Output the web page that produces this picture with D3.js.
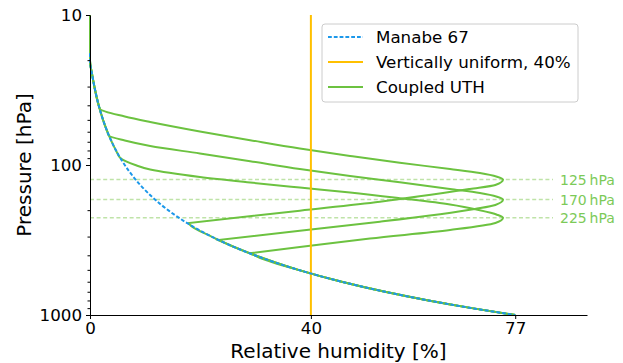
<!DOCTYPE html>
<html>
<head>
<meta charset="utf-8">
<script src="https://cdn.jsdelivr.net/npm/d3@7"></script>
<style>
    body { margin: 0; background: #fff; }
    svg { display: block; font-family: 'DejaVu Sans', sans-serif; }
</style>
</head>
<body>
<div id="chart"></div>
<script>
// Manabe 67 profile
const manabeP = [18, 20, 25, 30, 40, 50, 60, 70, 80, 100, 125, 150, 200, 250, 300, 400, 500, 600, 700, 800, 900, 1000];
const manabeRH = [0, 0, 0.39, 0.79, 1.57, 2.36, 3.14, 3.93, 4.71, 6.29, 8.25, 10.21, 14.14, 18.07, 22.0, 29.86, 37.71, 45.57, 53.43, 61.29, 69.14, 77];

const uniformRH = 40;

// coupled UTH bumps (pressure [hPa], RH [%]), one per level
const uthLevels = [125, 170, 225];
const uthP = [
    [42.3, 47.5, 51.7, 59.8, 68.3, 77.6, 87.0, 96.7, 106.3, 113.1, 119.7, 125, 135.9, 144.5, 175.7, 201.6, 243.6],
    [63.6, 68.7, 74.7, 83.8, 94.3, 106.3, 118.2, 130.4, 144.5, 153.7, 162.7, 170, 184.8, 196.4, 238.8, 274.2, 316.2],
    [90.5, 100, 107.2, 120.2, 130.8, 141.3, 152.5, 166.5, 183.4, 200.4, 214.5, 225, 243.6, 271.2, 309.0, 352.1, 386.0]
];
const uthRH = [
    [1.8, 6.3, 10.9, 19.9, 29.0, 38.0, 47.1, 56.1, 65.2, 70.6, 73.7, 74.8, 73.4, 68.8, 52.5, 38.0, 17.9],
    [3.4, 6.3, 10.9, 19.9, 29.0, 38.0, 47.1, 56.1, 65.2, 70.6, 73.7, 74.8, 73.4, 69.7, 52.5, 38.0, 23.2],
    [5.6, 8.2, 10.9, 19.9, 29.0, 38.0, 47.1, 56.1, 65.2, 70.6, 73.7, 74.8, 73.4, 65.2, 50.7, 38.0, 29.3]
];

const xTicks = [0, 40, 77];
const yTicks = [10, 100, 1000];
const yMinorTicks = [20, 30, 40, 50, 60, 70, 80, 90, 200, 300, 400, 500, 600, 700, 800, 900];
const legendLabels = ['Manabe 67', 'Vertically uniform, 40%', 'Coupled UTH'];

const colors = { manabe: '#1c98ea', uniform: '#ffc000', uth: '#6cc240', level: '#bfe3a8', levelText: '#7cca58' };

const width = 623, height = 363;
const svg = d3.select('#chart').append('svg').attr('width', width).attr('height', height);

const x = d3.scaleLinear().domain([0, 90]).range([90, 587]);
const y = d3.scaleLog().domain([10, 1000]).range([15, 315]);

const line = d3.line()
    .x(d => x(d.rh))
    .y(d => y(d.p))
    .curve(d3.curveMonotoneY);

const manabe = manabeP.map((p, i) => ({ p, rh: manabeRH[i] }));

// level guides
uthLevels.forEach(lev => {
    svg.append('line')
        .attr('x1', x(0)).attr('x2', 553)
        .attr('y1', y(lev)).attr('y2', y(lev))
        .attr('stroke', colors.level)
        .attr('stroke-width', 1.5)
        .attr('stroke-dasharray', '4,2.6');
    svg.append('text')
        .attr('x', 560).attr('y', y(lev))
        .attr('dominant-baseline', 'central')
        .attr('font-size', 14)
        .attr('fill', colors.levelText)
        .text(`${lev}\u2009hPa`);
});

// coupled curves: manabe above, bump, manabe below (kink kept sharp)
uthP.forEach((ps, k) => {
    const bump = ps.map((p, i) => ({ p, rh: uthRH[k][i] }));
    const pTop = ps[0], pBot = ps[ps.length - 1];
    const upper = [{ p: y.domain()[0], rh: 0 }]
        .concat(manabe.filter(d => d.p < pTop))
        .concat(bump);
    const lower = [bump[bump.length - 1]].concat(manabe.filter(d => d.p > pBot));
    svg.append('path')
        .attr('d', line(upper) + line(lower).replace(/^M/, 'L'))
        .attr('fill', 'none')
        .attr('stroke', colors.uth)
        .attr('stroke-width', 2);
});

svg.append('path')
    .attr('d', line([{ p: 10, rh: uniformRH }, { p: 1000, rh: uniformRH }]))
    .attr('fill', 'none')
    .attr('stroke', colors.uniform)
    .attr('stroke-width', 2);

svg.append('path')
    .attr('d', line(manabe))
    .attr('fill', 'none')
    .attr('stroke', colors.manabe)
    .attr('stroke-width', 2)
    .attr('stroke-dasharray', '3.8,2');

// axes
const styleAxis = g => {
    g.select('.domain').attr('stroke', '#000').attr('stroke-width', 1);
    g.selectAll('.tick line').attr('stroke', '#000');
    g.selectAll('.tick text').attr('font-size', 16.7).attr('fill', '#000').attr('font-family', 'DejaVu Sans');
};

svg.append('g')
    .attr('transform', `translate(0,${y(1000)})`)
    .call(d3.axisBottom(x).tickValues(xTicks).tickFormat(d3.format('d')).tickSize(4).tickPadding(3).tickSizeOuter(0))
    .call(styleAxis);

svg.append('g')
    .attr('transform', `translate(${x(0)},0)`)
    .call(d3.axisLeft(y).tickValues(yMinorTicks).tickFormat('').tickSize(2.5).tickSizeOuter(0))
    .call(g => g.select('.domain').remove())
    .call(g => g.selectAll('.tick line').attr('stroke', '#000'));

svg.append('g')
    .attr('transform', `translate(${x(0)},0)`)
    .call(d3.axisLeft(y).tickValues(yTicks).tickFormat(d3.format('d')).tickSize(4).tickPadding(4).tickSizeOuter(0))
    .call(styleAxis);

svg.append('text')
    .attr('x', (x(0) + 587) / 2).attr('y', 358)
    .attr('text-anchor', 'middle')
    .attr('font-size', 20)
    .text('Relative humidity [%]');

svg.append('text')
    .attr('transform', `translate(31,${(y(10) + y(1000)) / 2}) rotate(-90)`)
    .attr('text-anchor', 'middle')
    .attr('font-size', 20)
    .text('Pressure [hPa]');

// legend
const legend = svg.append('g').attr('transform', 'translate(322,24)');
legend.append('rect')
    .attr('width', 256).attr('height', 78)
    .attr('rx', 3)
    .attr('fill', '#fff').attr('fill-opacity', 0.8)
    .attr('stroke', '#ccc');

const legendStyles = [
    { color: colors.manabe, dash: '3.8,2' },
    { color: colors.uniform, dash: null },
    { color: colors.uth, dash: null }
];
legendLabels.forEach((label, i) => {
    const cy = 13 + i * 25;
    legend.append('line')
        .attr('x1', 6).attr('x2', 41)
        .attr('y1', cy).attr('y2', cy)
        .attr('stroke', legendStyles[i].color)
        .attr('stroke-width', 2)
        .attr('stroke-dasharray', legendStyles[i].dash);
    legend.append('text')
        .attr('x', 54).attr('y', cy)
        .attr('dominant-baseline', 'central')
        .attr('font-size', 16.7)
        .text(label);
});
</script>
</body>
</html>
